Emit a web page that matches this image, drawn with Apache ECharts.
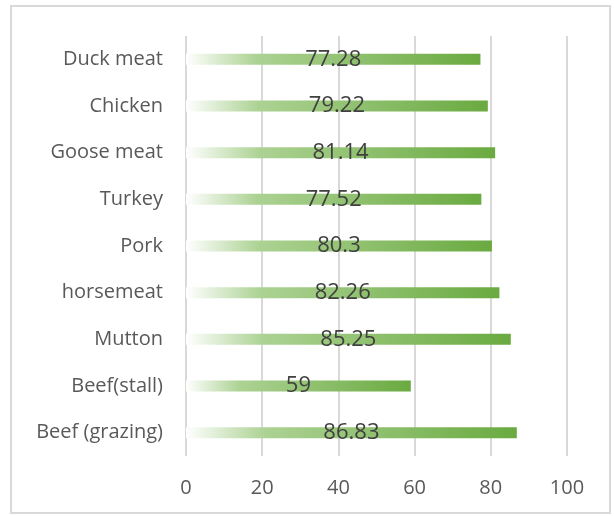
<!DOCTYPE html>
<html>
<head>
<meta charset="utf-8">
<script src="https://cdn.jsdelivr.net/npm/echarts@6/dist/echarts.min.js"></script>
<style>
html,body{margin:0;padding:0;background:#fff;}
#chart{width:614px;height:516px;}
</style>
</head>
<body>
<div id="chart"></div>
<script>
var categories = ['Beef (grazing)', 'Beef(stall)', 'Mutton', 'horsemeat', 'Pork', 'Turkey', 'Goose meat', 'Chicken', 'Duck meat'];
var values = [86.83, 59, 85.25, 82.26, 80.3, 77.52, 81.14, 79.22, 77.28];
var xTicks = [0, 20, 40, 60, 80, 100];

var chart = echarts.init(document.getElementById('chart'), null, {renderer: 'canvas'});
var option = {
  animation: false,
  backgroundColor: '#ffffff',
  graphic: [{
    type: 'rect',
    shape: {x: 11, y: 6, width: 599, height: 507},
    style: {fill: 'none', stroke: '#d9d9d9', lineWidth: 2},
    z: -1
  }],
  grid: {left: 186, right: 47, top: 36, bottom: 60},
  xAxis: {
    type: 'value',
    min: xTicks[0],
    max: xTicks[xTicks.length - 1],
    interval: 20,
    axisLine: {show: false},
    axisTick: {show: false},
    splitLine: {show: true, lineStyle: {color: '#d9d9d9', width: 2}},
    axisLabel: {color: '#595959', fontSize: 20, fontFamily: 'Open Sans', margin: 22}
  },
  yAxis: {
    type: 'category',
    data: categories,
    axisLine: {show: false},
    axisTick: {show: false},
    axisLabel: {color: '#595959', fontSize: 20, fontFamily: 'Open Sans', margin: 23}
  },
  series: [{
    type: 'bar',
    data: values,
    barWidth: 11,
    itemStyle: {
      color: new echarts.graphic.LinearGradient(0, 0, 1, 0, [
        {offset: 0, color: '#ffffff'},
        {offset: 0.24, color: '#acd293'},
        {offset: 1, color: '#6aaa40'}
      ])
    },
    label: {
      show: true,
      position: 'inside',
      color: '#404040',
      fontSize: 22,
      fontFamily: 'Open Sans',
      formatter: function (p) { return String(p.value); }
    }
  }]
};
chart.setOption(option);
</script>
</body>
</html>
